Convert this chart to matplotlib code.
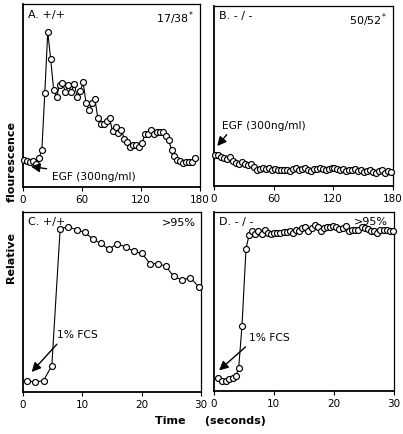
import numpy as np
import matplotlib
matplotlib.use("Agg")
from matplotlib import pyplot as plt

# Panel A: +/+ cells, EGF stimulation (3 s sampling)
a_time = np.arange(59) * 3.0 + 1.5
a_vals = [14.6, 14.2, 13.7, 14.2, 12.8, 15.7, 20.2, 51.2, 84.7, 69.8,
          53.2, 49.0, 55.9, 56.6, 52.1, 55.7, 52.1, 56.5, 49.0, 52.3,
          57.2, 45.9, 42.3, 45.9, 48.1, 37.7, 34.4, 34.4, 36.2, 37.5,
          30.4, 33.0, 29.3, 31.1, 26.2, 24.4, 22.0, 23.0, 23.1, 22.0,
          24.0, 29.0, 29.0, 31.3, 29.1, 29.9, 29.9, 30.2, 27.7, 25.9,
          20.4, 17.1, 14.9, 14.0, 12.9, 13.5, 13.8, 13.8, 15.7]

# Panel B: -/- cells, EGF stimulation
b_time = np.arange(60) * 3.0 + 1.5
b_vals = [17.5, 17.0, 16.0, 15.5, 15.0, 16.0, 14.0, 13.0, 12.5, 13.5,
          12.0, 11.5, 12.0, 10.5, 9.0, 9.5, 10.0, 9.5, 10.0, 9.0,
          9.5, 9.0, 9.0, 9.0, 9.0, 8.5, 9.5, 10.0, 9.0, 9.5,
          10.0, 9.0, 8.5, 9.5, 9.5, 10.0, 9.5, 9.0, 9.5, 10.0,
          10.0, 9.5, 9.0, 9.5, 8.5, 9.0, 9.0, 9.5, 8.5, 9.0,
          8.0, 8.5, 9.0, 8.0, 7.5, 8.5, 9.0, 7.5, 8.5, 8.0]

# Panel C: +/+ cells, 1% FCS
c_time = [0.8, 2.1, 3.5, 4.9, 6.3, 7.6, 9.1, 10.4, 11.8, 13.1, 14.5,
          15.9, 17.3, 18.7, 20.1, 21.4, 22.8, 24.1, 25.4, 26.8, 28.2, 29.6]
c_vals = [6.1, 5.6, 6.3, 14.6, 90.7, 91.7, 90.2, 88.7, 85.0, 82.6, 79.4,
          82.2, 80.7, 78.1, 77.0, 71.3, 71.3, 69.8, 64.3, 62.2, 63.5, 58.5]

# Panel D: -/- cells, 1% FCS
d_time = [0.73, 1.34, 1.95, 2.57, 3.12, 3.68, 4.13, 4.68,
          5.35, 5.86, 6.41, 6.92, 7.42, 7.98, 8.53, 9.04, 9.54, 10.04,
          10.60, 11.10, 11.66, 12.16, 12.72, 13.22, 13.78, 14.28, 14.78, 15.28,
          15.78, 16.34, 16.84, 17.35, 17.85, 18.41, 18.91, 19.41, 19.97, 20.47,
          20.97, 21.53, 22.03, 22.59, 23.09, 23.59, 24.09, 24.71, 25.21, 25.71,
          26.21, 26.71, 27.22, 27.77, 28.33, 28.89, 29.45, 29.89]
d_vals = [7.3, 5.4, 5.6, 6.7, 7.4, 8.6, 13.0, 36.5,
          79.5, 87.2, 89.2, 87.7, 89.4, 87.9, 89.9, 88.4, 87.9, 88.4,
          88.4, 88.4, 88.6, 88.6, 89.2, 88.4, 89.9, 89.4, 90.9, 91.6,
          89.6, 91.1, 92.6, 91.4, 89.6, 90.9, 91.6, 91.8, 92.4, 91.6,
          90.7, 91.3, 92.0, 89.6, 89.9, 90.1, 89.9, 91.4, 90.9, 90.5,
          89.4, 89.2, 88.4, 89.9, 90.1, 89.9, 89.4, 89.2]

panel_labels = ["A. +/+", "B. - / -", "C. +/+", "D. - / -"]
panel_counts = ["17/38$^{*}$", "50/52$^{*}$", ">95%", ">95%"]
long_ticks = [0, 60, 120, 180]
short_ticks = [0, 10, 20, 30]

W, H = 403, 435
fig = plt.figure(figsize=(W / 100, H / 100), dpi=100)

def add_ax(left, top, right, bottom):
    return fig.add_axes([left / W, 1 - bottom / H, (right - left) / W, (bottom - top) / H])

axA = add_ax(22.7, 5, 199.5, 188)
axB = add_ax(214, 7, 392.5, 187)
axC = add_ax(22.7, 213, 201, 393)
axD = add_ax(214, 213, 393.5, 392)

series = [(axA, a_time, a_vals, 180, long_ticks),
          (axB, b_time, b_vals, 180, long_ticks),
          (axC, c_time, c_vals, 30, short_ticks),
          (axD, d_time, d_vals, 30, short_ticks)]

for i, (ax, t, v, xmax, ticks) in enumerate(series):
    ax.plot(t, v, color="black", lw=0.8, marker="o", ms=4.3,
            mfc="white", mec="black", mew=0.85, clip_on=False, zorder=3)
    ax.set_xlim(0, xmax)
    ax.set_ylim(0, 100)
    ax.set_xticks(ticks)
    ax.set_yticks([])
    ax.tick_params(axis="x", direction="out", length=3, width=0.8,
                   labelsize=7.5, pad=2)
    for s in ax.spines.values():
        s.set_linewidth(0.9)
    ax.spines["bottom"].set_linewidth(1.3)
    ax.spines["left"].set_linewidth(1.3)
    ax.text(0.03, 0.975, panel_labels[i], transform=ax.transAxes,
            ha="left", va="top", fontsize=8)
    ax.text(0.97, 0.975, panel_counts[i], transform=ax.transAxes,
            ha="right", va="top", fontsize=8)

arrow = dict(arrowstyle="-|>,head_length=0.7,head_width=0.35", color="black", lw=1.0)
axA.annotate("EGF (300ng/ml)", xy=(5.5, 11.5), xytext=(30, 6),
             fontsize=7.7, va="center", ha="left", arrowprops=arrow)
axB.annotate("EGF (300ng/ml)", xy=(1.5, 21.0), xytext=(8.5, 34),
             fontsize=7.7, va="center", ha="left",
             arrowprops=dict(arrow, relpos=(0.1, 0.0)))
axC.annotate("1% FCS", xy=(1.2, 10), xytext=(5.8, 32),
             fontsize=7.7, va="center", ha="left",
             arrowprops=dict(arrow, relpos=(0.1, 0.0)))
axD.annotate("1% FCS", xy=(0.5, 10.5), xytext=(5.8, 30),
             fontsize=7.7, va="center", ha="left",
             arrowprops=dict(arrow, relpos=(0.05, 0.0)))

fig.text(12 / W, 1 - 203 / H, "Relative        flourescence", rotation=90,
         ha="center", va="center", fontsize=8, fontweight="bold")
fig.text(210 / W, 1 - 421 / H, "Time     (seconds)",
         ha="center", va="center", fontsize=8, fontweight="bold")

fig.savefig("out.png", dpi=100)
